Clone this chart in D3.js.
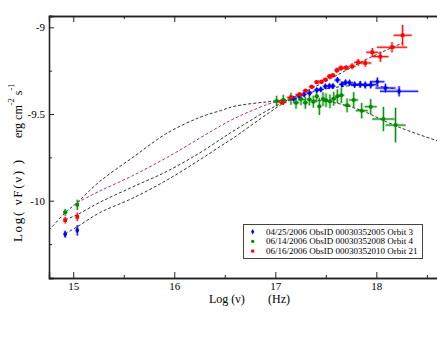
<!DOCTYPE html>
<html><head><meta charset="utf-8">
<script src="https://cdn.jsdelivr.net/npm/d3@7"></script>
<style>
html,body{margin:0;padding:0;background:#fff;}
svg{display:block;}
text{font-family:"Liberation Serif","Times New Roman",serif;fill:#000;}
</style>
</head><body>
<svg id="chart" width="437" height="338"></svg>
<script>
// ---- tick values ----
const xMajorTicks = [15, 16, 17, 18];
const xMinorTicks = [15.5, 16.5, 17.5, 18.5];
const yMajorTicks = [-9, -9.5, -10];
const yMinorTicks = [-9.25, -9.75, -10.25];

// ---- legend labels ----
const seriesLabels = [
  "04/25/2006 ObsID 00030352005 Orbit 3",
  "06/14/2006 ObsID 00030352008 Orbit 4",
  "06/16/2006 ObsID 00030352010 Orbit 21"
];
const seriesColors = ["#0000ff", "#008b00", "#ff0000"];

// ---- data points: [log nu, log nuFnu, xerr, yerr] ----
const blueData = [
  [14.92,-10.193,0.015,0.02],[15.04,-10.171,0.015,0.03],
  [17.18,-9.412,0.03,0.012],[17.235,-9.395,0.025,0.012],[17.285,-9.387,0.025,0.012],
  [17.34,-9.379,0.025,0.012],[17.41,-9.362,0.03,0.012],[17.45,-9.358,0.025,0.012],
  [17.495,-9.341,0.025,0.014],[17.535,-9.339,0.025,0.014],[17.57,-9.339,0.025,0.014],
  [17.615,-9.304,0.03,0.016],[17.66,-9.329,0.03,0.016],[17.695,-9.318,0.03,0.016],
  [17.735,-9.320,0.035,0.018],[17.785,-9.331,0.04,0.018],[17.84,-9.329,0.045,0.02],
  [17.89,-9.333,0.05,0.02],[17.945,-9.331,0.055,0.022],[18.01,-9.314,0.07,0.025],
  [18.09,-9.350,0.1,0.025],[18.225,-9.369,0.19,0.03]
];
const greenData = [
  [14.92,-10.067,0.015,0.02],[15.04,-10.024,0.015,0.03],
  [17.013,-9.425,0.03,0.03],[17.079,-9.419,0.03,0.03],[17.155,-9.412,0.03,0.035],
  [17.205,-9.435,0.03,0.035],[17.254,-9.414,0.025,0.035],[17.297,-9.435,0.025,0.035],
  [17.337,-9.416,0.025,0.035],[17.376,-9.429,0.025,0.035],[17.41,-9.398,0.02,0.035],
  [17.436,-9.456,0.02,0.05],[17.472,-9.414,0.02,0.04],[17.502,-9.421,0.02,0.04],
  [17.541,-9.427,0.025,0.04],[17.578,-9.412,0.025,0.04],[17.614,-9.398,0.025,0.04],
  [17.653,-9.392,0.03,0.045],[17.71,-9.45,0.035,0.04],[17.776,-9.419,0.045,0.045],
  [17.855,-9.481,0.06,0.045],[17.944,-9.458,0.06,0.045],[18.07,-9.529,0.11,0.07],
  [18.19,-9.564,0.1,0.1]
];
const redData = [
  [14.92,-10.112,0.015,0.02],[15.04,-10.093,0.015,0.025],
  [17.07,-9.433,0.04,0.012],[17.155,-9.404,0.04,0.012],[17.24,-9.387,0.04,0.012],
  [17.30,-9.366,0.03,0.012],[17.36,-9.343,0.03,0.012],[17.41,-9.316,0.025,0.012],
  [17.455,-9.314,0.025,0.012],[17.495,-9.302,0.025,0.012],[17.535,-9.283,0.025,0.014],
  [17.57,-9.277,0.025,0.014],[17.61,-9.248,0.025,0.016],[17.65,-9.235,0.03,0.016],
  [17.70,-9.233,0.03,0.016],[17.76,-9.225,0.035,0.018],[17.82,-9.202,0.04,0.02],
  [17.89,-9.206,0.06,0.022],[17.96,-9.144,0.06,0.025],[18.04,-9.169,0.08,0.03],
  [18.155,-9.115,0.15,0.03],[18.26,-9.046,0.09,0.06]
];

// ---- model curves ----
const greenModel = [
  [14.76,-10.17],[14.92,-10.07],[15.04,-10.01],[15.26,-9.89],[15.59,-9.75],
  [15.93,-9.61],[16.25,-9.52],[16.46,-9.48],[16.6,-9.455],[16.92,-9.43],
  [17.2,-9.418],[17.54,-9.43],[17.84,-9.477],[18.10,-9.545],[18.30,-9.593],[18.63,-9.66]
];
const purpleModel = [
  [15.04,-10.01],[15.26,-9.945],[15.59,-9.855],[15.93,-9.75],[16.25,-9.64],
  [16.46,-9.568],[16.58,-9.53],[16.92,-9.445],[17.05,-9.425]
];
const redModel = [
  [14.92,-10.11],[15.04,-10.08],[15.26,-10.01],[15.59,-9.92],[15.93,-9.83],
  [16.25,-9.725],[16.46,-9.645],[16.58,-9.60],[16.92,-9.48],[17.1,-9.425],
  [17.3,-9.37],[17.6,-9.28],[17.9,-9.185],[18.26,-9.09]
];
const blueModel = [
  [14.92,-10.19],[15.04,-10.15],[15.26,-10.07],[15.59,-9.985],[15.93,-9.88],
  [16.25,-9.765],[16.46,-9.685],[16.58,-9.64],[16.92,-9.50],[17.1,-9.432],
  [17.3,-9.385],[17.5,-9.355],[17.8,-9.335],[18.0,-9.338],[18.2,-9.358]
];

// ---- layout ----
const FONT = "'Liberation Serif','Times New Roman',Times,serif";
const svg = d3.select("#chart");
const L = 49, R = 440, T = 16, B = 278;
const x = d3.scaleLinear().domain([14.76, 18.63]).range([L, R]);
const y = d3.scaleLinear().domain([-10.4458, -8.9348]).range([B, T]);
const axisColor = "#222";

svg.append("defs").append("clipPath").attr("id","clip")
  .append("rect").attr("x",L).attr("y",T).attr("width",R-L).attr("height",B-T);

// axes
const fmt = d => String(d);
const gB = svg.append("g").attr("transform",`translate(0,${B})`)
  .call(d3.axisBottom(x).tickValues(xMajorTicks).tickSize(-6).tickPadding(4).tickFormat(fmt));
const gBm = svg.append("g").attr("transform",`translate(0,${B})`)
  .call(d3.axisBottom(x).tickValues(xMinorTicks).tickSize(-3).tickFormat(""));
const gT = svg.append("g").attr("transform",`translate(0,${T})`)
  .call(d3.axisTop(x).tickValues(xMajorTicks).tickSize(-6).tickFormat(""));
const gTm = svg.append("g").attr("transform",`translate(0,${T})`)
  .call(d3.axisTop(x).tickValues(xMinorTicks).tickSize(-3).tickFormat(""));
const gL = svg.append("g").attr("transform",`translate(${L},0)`)
  .call(d3.axisLeft(y).tickValues(yMajorTicks).tickSize(-5).tickPadding(4).tickFormat(fmt));
const gLm = svg.append("g").attr("transform",`translate(${L},0)`)
  .call(d3.axisLeft(y).tickValues(yMinorTicks).tickSize(-3).tickFormat(""));
[gB,gBm,gT,gTm,gL,gLm].forEach(g=>{
  g.attr("font-family",null);
  g.select(".domain").attr("stroke",axisColor).attr("stroke-width",1.3);
  g.selectAll(".tick line").attr("stroke",axisColor).attr("stroke-width",1);
  g.selectAll(".tick text").style("font-family",FONT).attr("font-size",11).attr("fill","#000");
});
gB.selectAll(".tick text").attr("dy","0.71em");

// model curves
const line = d3.line().x(d=>x(d[0])).y(d=>y(d[1])).curve(d3.curveCatmullRom.alpha(0.5));
const curves = svg.append("g").attr("clip-path","url(#clip)");
[[greenModel,"#333"],[redModel,"#333"],[blueModel,"#333"],[purpleModel,"#9a3a86"]].forEach(([m,c])=>{
  curves.append("path").attr("d",line(m)).attr("fill","none").attr("stroke",c)
    .attr("stroke-width",1).attr("stroke-dasharray","3,2");
});

// data
function drawSeries(data, color, shape){
  const g = svg.append("g").attr("clip-path","url(#clip)");
  data.forEach(d=>{
    const cx = x(d[0]), cy = y(d[1]);
    const x0 = x(d[0]-d[2]), x1 = x(d[0]+d[2]);
    const y0 = y(d[1]-d[3]), y1 = y(d[1]+d[3]);
    [[3,0.28],[1,1]].forEach(([w,o])=>{
      g.append("line").attr("x1",x0).attr("x2",x1).attr("y1",cy).attr("y2",cy)
        .attr("stroke",color).attr("stroke-width",w).attr("stroke-opacity",o);
      g.append("line").attr("x1",cx).attr("x2",cx).attr("y1",y0).attr("y2",y1)
        .attr("stroke",color).attr("stroke-width",w).attr("stroke-opacity",o);
    });
  });
  g.selectAll("path.m").data(data).join("path").attr("class","m")
    .attr("transform",d=>`translate(${x(d[0])},${y(d[1])})`)
    .attr("d",d3.symbol().type(shape).size(13))
    .attr("fill",color);
}
drawSeries(greenData, seriesColors[1], d3.symbolCircle);
drawSeries(blueData, seriesColors[0], d3.symbolDiamond);
drawSeries(redData, seriesColors[2], d3.symbolSquare);

// legend
const lg = svg.append("g");
lg.append("rect").attr("x",243.5).attr("y",224.5).attr("width",179).attr("height",34)
  .attr("fill","#fff").attr("stroke","#444").attr("stroke-width",1);
const shapes = [d3.symbolDiamond, d3.symbolCircle, d3.symbolSquare];
seriesLabels.forEach((lab,i)=>{
  const yy = 231.7 + i*9.7;
  lg.append("path").attr("transform",`translate(252.7,${yy})`)
    .attr("d",d3.symbol().type(shapes[i]).size(9)).attr("fill",seriesColors[i]);
  lg.append("text").attr("x",266).attr("y",yy+3).attr("font-size",9).style("font-family",FONT).text(lab);
});

// axis titles
svg.append("text").attr("x",209).attr("y",303).attr("font-size",12).style("font-family",FONT).text("Log (\u03BD)");
svg.append("text").attr("x",268).attr("y",303).attr("font-size",12).style("font-family",FONT).text("(Hz)");

svg.append("text").attr("transform","translate(21.5,242) rotate(-90)")
  .attr("font-size",13).attr("textLength",82).attr("lengthAdjust","spacing")
  .style("font-family",FONT).text("Log( \u03BDF(\u03BD) )");
const ul = svg.append("text").attr("transform","translate(21.5,138) rotate(-90)")
  .attr("font-size",12).style("font-family",FONT);
ul.append("tspan").text("erg cm");
ul.append("tspan").attr("dy",-8).attr("font-size",8.5).text("-2");
ul.append("tspan").attr("dy",8).text(" s");
ul.append("tspan").attr("dy",-8).attr("font-size",8.5).text("-1");
</script>
</body></html>
